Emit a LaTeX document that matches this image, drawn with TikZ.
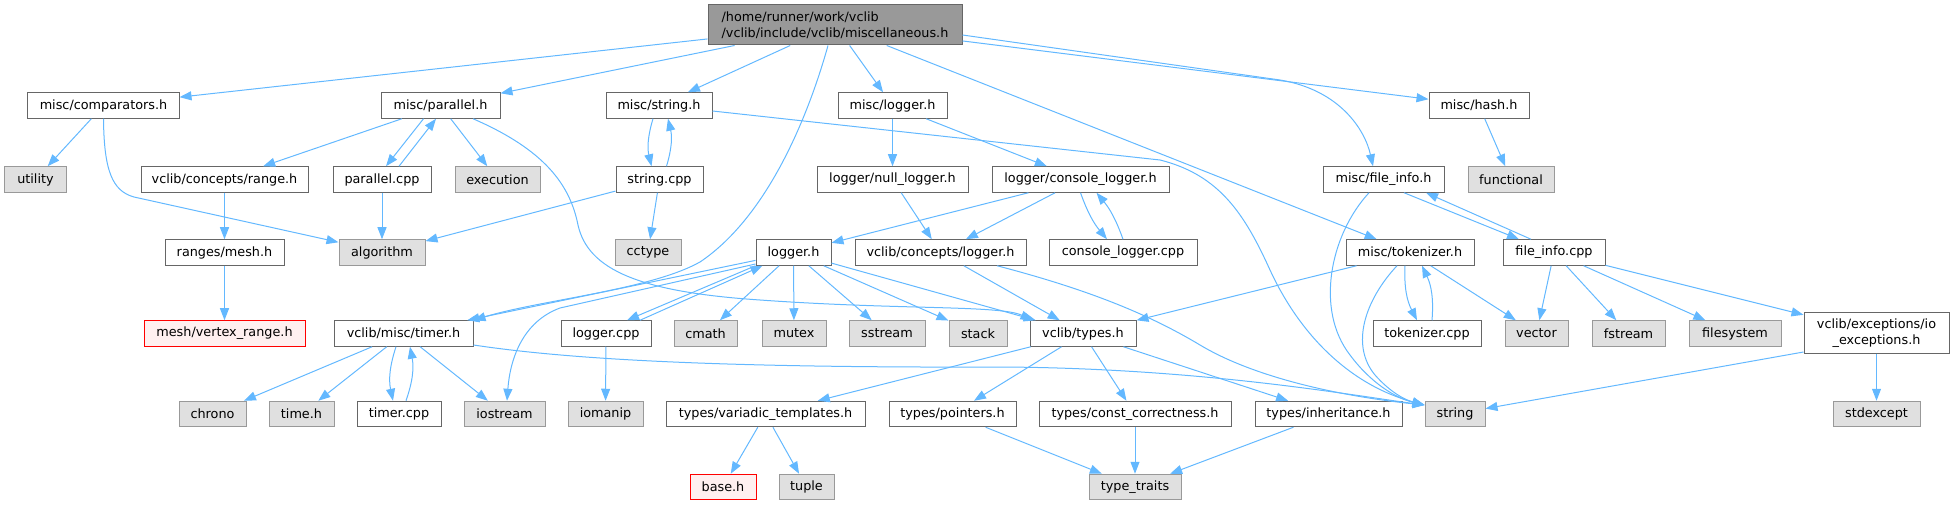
\documentclass[tikz,border=0pt]{standalone}
\usepackage{fontspec}
\setmainfont{DejaVu Sans}
\usetikzlibrary{arrows.meta,calc}
\definecolor{edgec}{HTML}{63B8FF}
\definecolor{bordc}{HTML}{666666}
\definecolor{extb}{HTML}{999999}
\definecolor{extf}{HTML}{E0E0E0}
\definecolor{rootf}{HTML}{999999}
\definecolor{missb}{HTML}{FF0000}
\definecolor{missf}{HTML}{FFF0F0}
\begin{document}
\begin{tikzpicture}[x=1bp,y=-1bp,
  nd/.style={draw=bordc, fill=white, line width=1bp, minimum height=25.5bp, inner sep=0pt,
             font=\fontsize{12.85}{16}\selectfont, text=black},
  ext/.style={nd, draw=extb, fill=extf},
  missnd/.style={nd, draw=missb, fill=missf},
  rootnd/.style={nd, fill=rootf, draw=bordc, align=left},
  edg/.style={draw=edgec, line width=1bp, -{Triangle[length=12bp,width=9bp]}}]
\useasboundingbox (0,0) rectangle (1954,505);

% row 0
\node[rootnd, minimum width=254bp, minimum height=40bp] (root) at (835,25) {/home/runner/work/vclib\\/vclib/include/vclib/miscellaneous.h};
% row 1
\node[nd, minimum width=151bp] (comparators) at (103.5,105.5) {misc/comparators.h};
\node[nd, minimum width=119bp] (parallel_h) at (440.5,105.5) {misc/parallel.h};
\node[nd, minimum width=106bp] (string_h) at (659,105.5) {misc/string.h};
\node[nd, minimum width=109bp] (logger_misc) at (892.5,105.5) {misc/logger.h};
\node[nd, minimum width=100bp] (hash) at (1479,105.5) {misc/hash.h};
% row 2
\node[ext, minimum width=61bp] (utility) at (35.5,179.5) {utility};
\node[nd, minimum width=167bp] (range_h) at (224.5,179.5) {vclib/concepts/range.h};
\node[nd, minimum width=98bp] (parallel_cpp) at (382,179.5) {parallel.cpp};
\node[ext, minimum width=85bp] (execution) at (497.5,179.5) {execution};
\node[nd, minimum width=87bp] (string_cpp) at (659.5,179.5) {string.cpp};
\node[nd, minimum width=151bp] (null_logger) at (892.5,179.5) {logger/null\_logger.h};
\node[nd, minimum width=177bp] (console_logger_h) at (1080.5,179.5) {logger/console\_logger.h};
\node[nd, minimum width=121bp] (file_info_h) at (1383.5,179.5) {misc/file\_info.h};
\node[ext, minimum width=86bp] (functional) at (1511,179.5) {functional};
% row 3
\node[nd, minimum width=119bp] (mesh_h) at (224.5,252.5) {ranges/mesh.h};
\node[ext, minimum width=86bp] (algorithm) at (382,252.5) {algorithm};
\node[ext, minimum width=66bp] (cctype) at (648,252.5) {cctype};
\node[nd, minimum width=75bp] (logger_h) at (793.5,252.5) {logger.h};
\node[nd, minimum width=171bp] (concepts_logger) at (940.5,252.5) {vclib/concepts/logger.h};
\node[nd, minimum width=148bp] (console_logger_cpp) at (1123,252.5) {console\_logger.cpp};
\node[nd, minimum width=128bp] (tokenizer_h) at (1410,252.5) {misc/tokenizer.h};
\node[nd, minimum width=102bp] (file_info_cpp) at (1554,252.5) {file\_info.cpp};
% row 4
\node[missnd, minimum width=161bp] (vertex_range) at (224.5,333.5) {mesh/vertex\_range.h};
\node[nd, minimum width=139bp] (timer_h) at (403.5,333.5) {vclib/misc/timer.h};
\node[nd, minimum width=90bp] (logger_cpp) at (606,333.5) {logger.cpp};
\node[ext, minimum width=63bp] (cmath) at (705.5,333.5) {cmath};
\node[ext, minimum width=64bp] (mutex) at (794,333.5) {mutex};
\node[ext, minimum width=76bp] (sstream) at (887,333.5) {sstream};
\node[ext, minimum width=58bp] (stack) at (978,333.5) {stack};
\node[nd, minimum width=106bp] (types_h) at (1083,333.5) {vclib/types.h};
\node[nd, minimum width=108bp] (tokenizer_cpp) at (1427,333.5) {tokenizer.cpp};
\node[ext, minimum width=63bp] (vector) at (1536.5,333.5) {vector};
\node[ext, minimum width=73bp] (fstream) at (1628.5,333.5) {fstream};
\node[ext, minimum width=92bp] (filesystem) at (1735,333.5) {filesystem};
\node[nd, minimum width=145bp, minimum height=40bp, align=center] (io_exceptions) at (1876.5,333) {vclib/exceptions/io\\\_exceptions.h};
% row 5
\node[ext, minimum width=67bp] (chrono) at (212.5,414) {chrono};
\node[ext, minimum width=65bp] (time_h) at (301.5,414) {time.h};
\node[nd, minimum width=84bp] (timer_cpp) at (399,414) {timer.cpp};
\node[ext, minimum width=81bp] (iostream) at (504.5,414) {iostream};
\node[ext, minimum width=75bp] (iomanip) at (605.5,414) {iomanip};
\node[nd, minimum width=199bp] (variadic) at (765.5,414) {types/variadic\_templates.h};
\node[nd, minimum width=127bp] (pointers) at (952.5,414) {types/pointers.h};
\node[nd, minimum width=192bp] (const_corr) at (1135,414) {types/const\_correctness.h};
\node[nd, minimum width=147bp] (inheritance) at (1328.5,414) {types/inheritance.h};
\node[ext, minimum width=60bp] (string) at (1455,414) {string};
\node[ext, minimum width=87bp] (stdexcept) at (1876.5,414) {stdexcept};
% row 6
\node[missnd, minimum width=66bp] (base_h) at (723,487) {base.h};
\node[ext, minimum width=55bp] (tuple) at (806.5,487) {tuple};
\node[ext, minimum width=92bp] (type_traits) at (1135,487) {type\_traits};

% edges from root
\draw[edg] (root) -- (comparators);
\draw[edg] (root) -- (parallel_h);
\draw[edg] (root) -- (string_h);
\draw[edg] (root) -- (logger_misc);
\draw[edg] (root) -- (tokenizer_h);
\draw[edg] (root) -- (hash);
\draw[edg] ([xshift=-7bp]root.south) .. controls (810,110) and (770,215) .. (700,262)
   .. controls (650,290) and (540,300) .. (timer_h.north east);
\draw[edg] ([yshift=-10bp]root.east) -- (1280,80) .. controls (1340,90) and (1365,130) .. ([xshift=-10.5bp]file_info_h.north);

% comparators
\draw[edg] (comparators) -- (utility);
\draw[edg] (comparators.south) .. controls (104,170) and (112,191) .. (134,197) -- ([yshift=-3bp]algorithm.north west);

% parallel
\draw[edg] (parallel_h) -- (range_h);
\draw[edg] (parallel_h) -- (execution);
\draw[edg] ([xshift=-17bp]parallel_h.south) -- ([xshift=4bp]parallel_cpp.north);
\draw[edg] ([xshift=17bp]parallel_cpp.north) -- ([xshift=-4.5bp]parallel_h.south);
\draw[edg] ([xshift=32.5bp]parallel_h.south) .. controls (545,150) and (570,185) .. (578,225)
   .. controls (588,270) and (640,292) .. (760,300) .. controls (900,310) and (1000,305) .. ([xshift=3bp]types_h.north west);
\draw[edg] (parallel_cpp) -- (algorithm);

% string
\draw[edg] ([xshift=-6bp]string_h.south) to[bend right=15] ([xshift=-8bp]string_cpp.north);
\draw[edg] ([xshift=7bp]string_cpp.north) to[bend right=15] ([xshift=9bp]string_h.south);
\draw[edg] ([yshift=-5.5bp]string_h.east) -- (1160,160) .. controls (1220,175) and (1245,215) .. (1270,270)
   .. controls (1300,335) and (1350,385) .. ([yshift=9bp]string.west);
\draw[edg] (string_cpp) -- (algorithm);
\draw[edg] (string_cpp) -- (cctype);

% misc/logger
\draw[edg] (logger_misc) -- (null_logger);
\draw[edg] (logger_misc) -- (console_logger_h);
\draw[edg] (null_logger) -- (concepts_logger);
\draw[edg] (console_logger_h) -- (logger_h);
\draw[edg] (console_logger_h) -- (concepts_logger);
\draw[edg] (console_logger_h.south) to[bend right=10] ([xshift=-16bp]console_logger_cpp.north);
\draw[edg] (console_logger_cpp.north) to[bend right=10] ([xshift=16bp]console_logger_h.south);

% hash
\draw[edg] (hash) -- (functional);

% file_info
\draw[edg] ([xshift=20.5bp]file_info_h.south) -- ([xshift=-35bp]file_info_cpp.north);
\draw[edg] ([xshift=-23bp]file_info_cpp.north) -- ([xshift=42.5bp]file_info_h.south);
\draw[edg] ([xshift=-14.5bp]file_info_h.south) .. controls (1330,235) and (1315,310) .. (1350,355)
   .. controls (1370,382) and (1395,398) .. ([yshift=9bp]string.west);
\draw[edg] (file_info_cpp) -- (vector);
\draw[edg] (file_info_cpp) -- (fstream);
\draw[edg] (file_info_cpp) -- (filesystem);
\draw[edg] (file_info_cpp) -- (io_exceptions);

% ranges
\draw[edg] (range_h) -- (mesh_h);
\draw[edg] (mesh_h) -- (vertex_range);

% logger.h
\draw[edg] (logger_h) -- (timer_h);
\draw[edg] ([yshift=-11.5bp]logger_h.west) -- (560,308) .. controls (522,322) and (510,360) .. ([xshift=2.5bp]iostream.north);
\draw[edg] (logger_h.south west) -- ([xshift=21bp]logger_cpp.north);
\draw[edg] ([xshift=34bp]logger_cpp.north) -- ([xshift=7bp]logger_h.south west);
\draw[edg] (logger_h) -- (cmath);
\draw[edg] (logger_h) -- (mutex);
\draw[edg] (logger_h) -- (sstream);
\draw[edg] (logger_h) -- (stack);
\draw[edg] (logger_h) -- (types_h);
\draw[edg] (logger_cpp) -- (iomanip);

% concepts/logger
\draw[edg] (concepts_logger) -- (types_h);
\draw[edg] ([xshift=56.5bp]concepts_logger.south) .. controls (1090,290) and (1150,315) .. (1200,345)
   .. controls (1250,375) and (1330,395) .. ([yshift=9bp]string.west);

% tokenizer
\draw[edg] (tokenizer_h) -- (types_h);
\draw[edg] ([xshift=-13bp]tokenizer_h.south) .. controls (1365,300) and (1350,345) .. (1375,375)
   .. controls (1390,392) and (1405,400) .. ([yshift=9bp]string.west);
\draw[edg] ([xshift=-5bp]tokenizer_h.south) to[bend right=15] ([xshift=-10bp]tokenizer_cpp.north);
\draw[edg] ([xshift=5bp]tokenizer_cpp.north) to[bend right=15] ([xshift=12bp]tokenizer_h.south);
\draw[edg] (tokenizer_h) -- (vector);

% timer
\draw[edg] (timer_h) -- (chrono);
\draw[edg] (timer_h) -- (time_h);
\draw[edg] ([xshift=-7.5bp]timer_h.south) to[bend right=15] ([xshift=-6bp]timer_cpp.north);
\draw[edg] ([xshift=7bp]timer_cpp.north) to[bend right=15] ([xshift=6.5bp]timer_h.south);
\draw[edg] (timer_h) -- (iostream);
\draw[edg] ([yshift=-11.5bp]timer_h.east) .. controls (560,358) and (700,368) .. (1000,367)
   .. controls (1200,368) and (1350,395) .. ([yshift=9bp]string.west);

% types
\draw[edg] (types_h) -- (variadic);
\draw[edg] (types_h) -- (pointers);
\draw[edg] (types_h) -- (const_corr);
\draw[edg] (types_h) -- (inheritance);
\draw[edg] (variadic) -- (base_h);
\draw[edg] (variadic) -- (tuple);
\draw[edg] (pointers) -- (type_traits);
\draw[edg] (const_corr) -- (type_traits);
\draw[edg] (inheritance) -- (type_traits);

% io exceptions
\draw[edg] (io_exceptions) -- (stdexcept);
\draw[edg] ([yshift=-19bp]io_exceptions.west) -- (string);
\end{tikzpicture}
\end{document}
